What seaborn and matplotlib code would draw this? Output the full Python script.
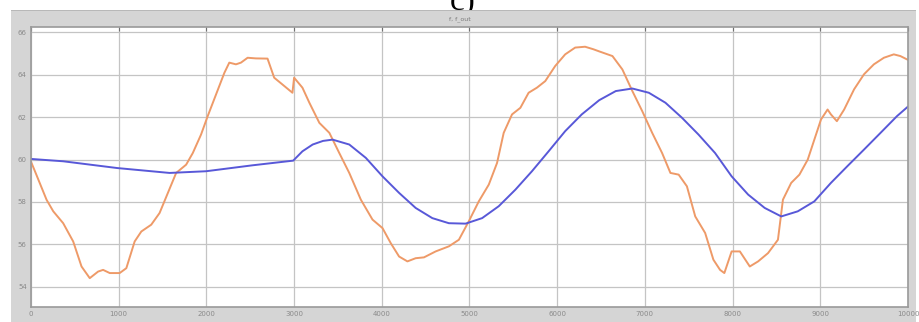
import matplotlib
matplotlib.use("Agg")
import matplotlib.pyplot as plt
import seaborn as sns
import pandas as pd
from matplotlib.patches import Rectangle

# ---- data ----
f_t = [0, 40, 178, 254, 367, 481, 576, 670, 765, 822, 898, 1011, 1087, 1182, 1258, 1371,
       1466, 1561, 1655, 1769, 1845, 1939, 2015, 2110, 2205, 2261, 2337, 2394, 2470, 2564,
       2697, 2773, 2867, 2981, 3000, 3095, 3174, 3288, 3402, 3515, 3629, 3761, 3894, 4008,
       4102, 4197, 4292, 4386, 4481, 4614, 4765, 4879, 4992, 5106, 5220, 5314, 5390, 5485,
       5580, 5674, 5769, 5864, 5977, 6091, 6205, 6318, 6413, 6479, 6630, 6743, 6857, 6970,
       7083, 7196, 7291, 7385, 7479, 7574, 7687, 7781, 7857, 7906, 7989, 8083, 8196, 8291,
       8404, 8517, 8574, 8668, 8762, 8857, 8932, 9008, 9083, 9121, 9189, 9272, 9385, 9498,
       9611, 9725, 9838, 9913, 10000]
f_val = [59.9, 59.5, 58.1, 57.56, 57.0, 56.14, 54.96, 54.41, 54.72, 54.8, 54.65, 54.65,
         54.88, 56.14, 56.61, 56.93, 57.48, 58.43, 59.37, 59.76, 60.31, 61.18, 62.05, 63.07,
         64.09, 64.57, 64.49, 64.57, 64.80, 64.77, 64.76, 63.86, 63.54, 63.15, 63.86, 63.39,
         62.68, 61.73, 61.26, 60.31, 59.37, 58.11, 57.17, 56.77, 56.06, 55.43, 55.20, 55.35,
         55.39, 55.67, 55.91, 56.22, 57.09, 58.03, 58.82, 59.84, 61.26, 62.13, 62.44, 63.15,
         63.39, 63.70, 64.41, 64.96, 65.28, 65.32, 65.2, 65.1, 64.88, 64.25, 63.23, 62.28,
         61.26, 60.31, 59.37, 59.29, 58.74, 57.32, 56.54, 55.28, 54.80, 54.65, 55.67, 55.67,
         54.96, 55.20, 55.59, 56.22, 58.11, 58.90, 59.29, 60.0, 60.94, 61.89, 62.36, 62.13,
         61.81, 62.36, 63.31, 64.02, 64.49, 64.80, 64.96, 64.88, 64.7]

fout_t = [0, 367, 985, 1580, 1996, 2526, 2990, 3095, 3212, 3330, 3439, 3629, 3818, 4008,
          4197, 4386, 4576, 4765, 4955, 5144, 5333, 5523, 5712, 5902, 6091, 6280, 6479, 6668,
          6857, 7045, 7234, 7423, 7611, 7800, 7989, 8177, 8366, 8555, 8743, 8932, 9121, 9309,
          9498, 9687, 9875, 10000]
fout_val = [60.03, 59.92, 59.6, 59.37, 59.45, 59.73, 59.95, 60.39, 60.71, 60.88, 60.94,
            60.71, 60.08, 59.21, 58.43, 57.72, 57.24, 57.0, 56.98, 57.24, 57.80, 58.58,
            59.45, 60.39, 61.34, 62.13, 62.8, 63.23, 63.35, 63.15, 62.68, 61.97, 61.18,
            60.31, 59.21, 58.35, 57.72, 57.32, 57.56, 58.03, 58.90, 59.69, 60.47, 61.26,
            62.05, 62.5]

x_ticks = [0, 1000, 2000, 3000, 4000, 5000, 6000, 7000, 8000, 9000, 10000]
y_ticks = [54, 56, 58, 60, 62, 64, 66]

title_text = "f, f_out"
panel_label = "c)"

# ---- figure ----
sns.set_style("white")
plt.rcParams['font.family'] = ['DejaVu Sans']

fig = plt.figure(figsize=(9.2, 3.22), dpi=100)
fig.patch.set_facecolor("white")

W, H = 920, 322
# grey scope background (drawn behind the axes)
fig.patches.append(Rectangle((11 / W, 0), (916 - 11) / W, (322 - 10) / H,
                             transform=fig.transFigure, facecolor="#d5d5d5",
                             edgecolor="none", zorder=-5))
fig.patches.append(Rectangle((11 / W, (322 - 11) / H), (916 - 11) / W, 1.2 / H,
                             transform=fig.transFigure, facecolor="#b8b8b8",
                             edgecolor="none", zorder=-4))

fig.text(463 / W, 1 - 10 / H, panel_label, ha="center", va="baseline",
         family=["Liberation Serif", "DejaVu Serif"], fontsize=24, color="black",
         zorder=-10)
fig.text(460 / W, 1 - 19 / H, title_text, ha="center", va="center",
         fontsize=4.5, color="#7a7a7a", zorder=5)

ax = fig.add_axes([31 / W, 1 - 307 / H, (908 - 31) / W, (307 - 27) / H])
ax.set_zorder(1)
ax.set_facecolor("white")

sns.lineplot(x=f_t, y=f_val, ax=ax, color="#ee9a68", linewidth=1.4, sort=False)
sns.lineplot(x=fout_t, y=fout_val, ax=ax, color="#5858d8", linewidth=1.4, sort=False)

ax.set_xlim(0, 10000)
ax.set_ylim(53.05, 66.25)
ax.set_xticks(x_ticks)
ax.set_yticks(y_ticks)
ax.set_xticklabels([str(v) for v in x_ticks])
ax.set_yticklabels([str(v) for v in y_ticks])
ax.grid(True, color="#c4c4c4", linewidth=0.9)
ax.set_axisbelow(True)
ax.tick_params(axis="both", direction="in", length=3, width=0.8, color="#707070",
               labelsize=5, labelcolor="#8a8a8a", pad=3)
ax.tick_params(top=True, right=False)
for s in ax.spines.values():
    s.set_color("#9a9a9a")
    s.set_linewidth(1.2)
ax.set_xlabel("")
ax.set_ylabel("")

fig.savefig("out.png", dpi=100, facecolor=fig.get_facecolor())
